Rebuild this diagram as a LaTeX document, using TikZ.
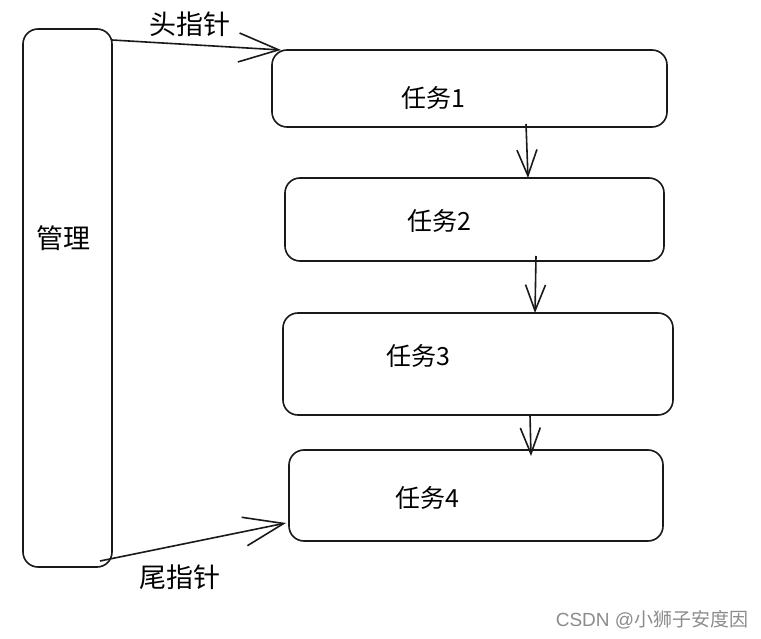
\documentclass[tikz,border=0pt]{standalone}
\usepackage{fontspec}
\setmainfont{Liberation Sans}
\newfontfamily\cjk{Noto Sans CJK SC}
\usetikzlibrary{arrows.meta}
\begin{document}
\begin{tikzpicture}[x=1pt,y=-1pt,
  boxstyle/.style={draw=black!90,line width=1.6pt,rounded corners=15pt,inner sep=0pt},
  lbl/.style={font=\cjk\fontsize{25}{28}\selectfont,inner sep=0pt},
  biglbl/.style={font=\cjk\fontsize{27}{30}\selectfont,inner sep=0pt},
  bigarrow/.style={draw=black!90,line width=1.6pt,-{Straight Barb[length=40pt,width=29pt,line width=1.6pt]}},
  downarrow/.style={draw=black!90,line width=1.6pt,-{Straight Barb[length=26pt,width=20pt,line width=1.6pt]}}]
\useasboundingbox (0,0) rectangle (761,639);
\fill[white] (0,0) rectangle (761,639);
% boxes
\draw[boxstyle] (23,29) rectangle (112,567);
\node[biglbl] (mg) at (63,238) {管理};
\draw[boxstyle] (272,50) rectangle (667,127);
\draw[boxstyle] (285,178) rectangle (664,261);
\draw[boxstyle] (283,313) rectangle (673,415);
\draw[boxstyle] (289,450) rectangle (663,541);
\node[lbl] (t1) at (433,98) {任务1};
\node[lbl] (t2) at (439,221) {任务2};
\node[lbl] (t3) at (418,356) {任务3};
\node[lbl] (t4) at (427,498) {任务4};
% coordinates
\coordinate (hs) at (112,40);
\coordinate (he) at (281,50);
\coordinate (ts) at (100,561);
\coordinate (te) at (286,523);
\coordinate (a1s) at (526,124);
\coordinate (a1e) at (528,178);
\coordinate (a2s) at (536,256);
\coordinate (a2e) at (535,313);
\coordinate (a3s) at (530,415);
\coordinate (a3e) at (531,456);
\draw[bigarrow] (hs) -- (he);
\draw[bigarrow] (ts) -- (te);
\draw[downarrow] (a1s) -- (a1e);
\draw[downarrow] (a2s) -- (a2e);
\draw[downarrow] (a3s) -- (a3e);
\node[biglbl] (hl) at (190,24) {头指针};
\node[biglbl] (tl) at (180,577) {尾指针};
\node[inner sep=0pt,text=black!45,font=\fontsize{19}{22}\selectfont] (wm) at (652,620) {CSDN @{\cjk 小狮子安度因}};
\end{tikzpicture}
\end{document}
